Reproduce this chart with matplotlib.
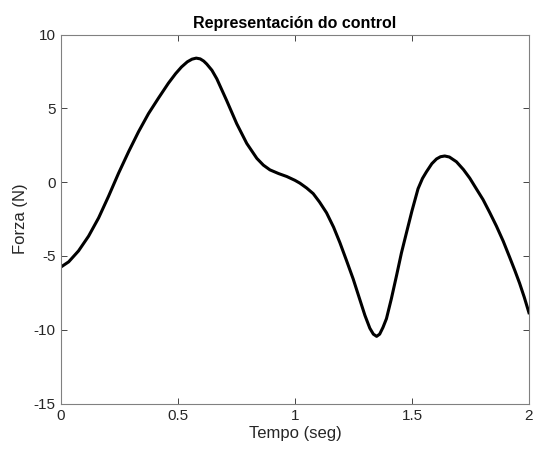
import matplotlib.pyplot as plt

tempo = [0.000, 0.033, 0.075, 0.118, 0.161, 0.203, 0.246, 0.289, 0.331, 0.374,
         0.417, 0.459, 0.490, 0.515, 0.540, 0.560, 0.578, 0.595, 0.610, 0.623,
         0.645, 0.666, 0.708, 0.751, 0.794, 0.837, 0.865, 0.893, 0.930, 0.965,
         1.000, 1.021, 1.050, 1.078, 1.105, 1.135, 1.165, 1.192, 1.220, 1.249,
         1.275, 1.299, 1.320, 1.335, 1.349, 1.362, 1.376, 1.391, 1.412, 1.434,
         1.455, 1.477, 1.500, 1.526, 1.545, 1.562, 1.585, 1.605, 1.622, 1.640,
         1.660, 1.690, 1.720, 1.747, 1.775, 1.804, 1.832, 1.861, 1.890, 1.918,
         1.940, 1.960, 1.980, 2.000]
forza = [-5.75, -5.40, -4.66, -3.66, -2.42, -0.97, 0.60, 2.06, 3.40, 4.64,
         5.70, 6.70, 7.35, 7.80, 8.15, 8.33, 8.40, 8.35, 8.20, 8.00,
         7.58, 7.00, 5.53, 3.96, 2.62, 1.61, 1.15, 0.83, 0.58, 0.38,
         0.12, -0.07, -0.40, -0.78, -1.35, -2.08, -3.05, -4.10, -5.30, -6.57,
         -7.85, -9.03, -9.90, -10.30, -10.45, -10.30, -9.85, -9.25, -7.90, -6.34,
         -4.80, -3.40, -1.95, -0.45, 0.25, 0.70, 1.25, 1.57, 1.72, 1.77,
         1.70, 1.38, 0.85, 0.27, -0.45, -1.19, -2.05, -2.98, -4.00, -5.11,
         -6.00, -6.85, -7.80, -8.85]

xticks = [0, 0.5, 1, 1.5, 2]
xtick_labels = ['0', '0.5', '1', '1.5', '2']
yticks = [-15, -10, -5, 0, 5, 10]

plt.rcParams['font.family'] = ['Liberation Sans', 'DejaVu Sans']
plt.rcParams['axes.unicode_minus'] = False
cor_eixo = '#262626'

fig = plt.figure(figsize=(5.33, 4.5), dpi=100)
ax = fig.add_axes([0.1144, 0.1033, 0.878, 0.82])
ax.plot(tempo, forza, color='black', linewidth=2.2, solid_joinstyle='round')

ax.set_xlim(0, 2)
ax.set_ylim(-15, 10)
ax.set_xticks(xticks)
ax.set_xticklabels(xtick_labels)
ax.set_yticks(yticks)
ax.tick_params(direction='in', top=True, right=True, length=4, width=0.6,
               labelsize=11, colors=cor_eixo, pad=4)
for s in ax.spines.values():
    s.set_color('#808080')
    s.set_linewidth(0.8)

ax.set_title('Representación do control', fontsize=11.5, fontweight='bold', pad=5)
ax.set_xlabel('Tempo (seg)', fontsize=12, color=cor_eixo, labelpad=2)
ax.set_ylabel('Forza (N)', fontsize=12, color=cor_eixo, labelpad=4)

fig.savefig('out.png', dpi=100)
